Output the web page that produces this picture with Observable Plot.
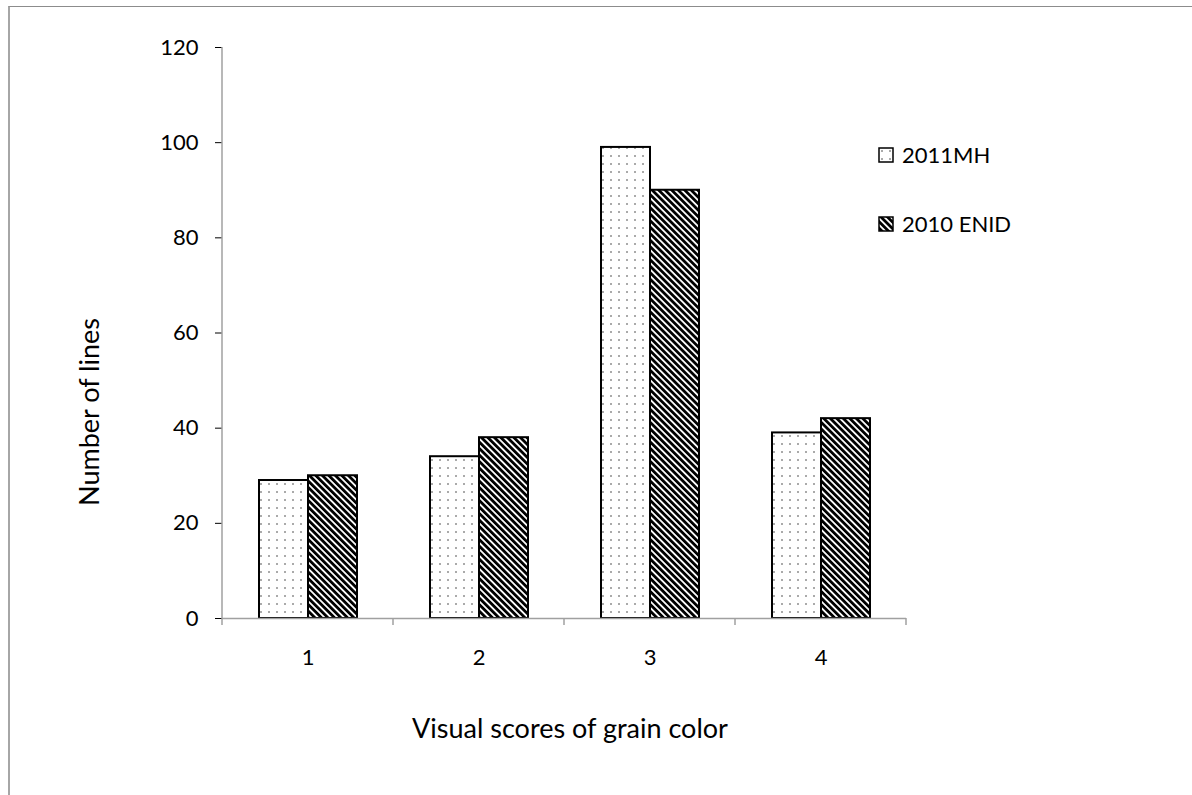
<!DOCTYPE html>
<html><head><meta charset="utf-8">
<script src="https://cdn.jsdelivr.net/npm/d3@7"></script>
<script src="https://cdn.jsdelivr.net/npm/@observablehq/plot@0.6"></script>
<style>
  body{margin:0;background:#fff;font-family:Lato,"Open Sans",sans-serif;color:#000;}
  #wrap{position:relative;width:1192px;height:795px;overflow:hidden;}
  #border{position:absolute;left:8px;top:6px;width:1200px;height:800px;border-left:2px solid #a6a6a6;border-top:1px solid #8c8c8c;}
  #chart{position:absolute;left:0;top:0;}
  .lbl{position:absolute;white-space:nowrap;font-size:27px;line-height:1;}
  #xlab{left:570px;top:727px;transform:translate(-50%,-50%);}
  #ylab{left:88px;top:412px;transform:translate(-50%,-50%) rotate(-90deg);}
  .leg{position:absolute;left:878px;display:flex;align-items:center;font-size:22px;line-height:1;}
  .leg svg{margin-right:8px;}
</style>
</head><body>
<div id="wrap">
  <div id="border"></div>
  <div id="chart"></div>
  <div class="lbl" id="xlab">Visual scores of grain color</div>
  <div class="lbl" id="ylab">Number of lines</div>
  <div class="leg" style="top:144px"><svg width="16" height="16"><rect x="1" y="1" width="14" height="14" fill="url(#dots)" stroke="#000" stroke-width="1.5"/></svg><span>2011MH</span></div>
  <div class="leg" style="top:213px"><svg width="16" height="16"><rect x="1" y="1" width="14" height="14" fill="url(#hatch)" stroke="#000" stroke-width="1.5"/></svg><span>2010 ENID</span></div>
</div>
<script>
const categories = ["1", "2", "3", "4"];
const series = ["2011MH", "2010 ENID"];
const values2011MH = [29, 34, 99, 39];
const values2010ENID = [30, 38, 90, 42];
const yTicks = [0, 20, 40, 60, 80, 100, 120];
const patterns = ["url(#dots)", "url(#hatch)"];

const table = [];
categories.forEach((c, i) => {
  table.push({cat: c, series: series[0], value: values2011MH[i]});
  table.push({cat: c, series: series[1], value: values2010ENID[i]});
});

const plot = Plot.plot({
  width: 1192, height: 795,
  marginLeft: 221, marginRight: 285, marginTop: 47, marginBottom: 177,
  style: {fontFamily: "Lato, 'Open Sans', sans-serif", fontSize: "22px", color: "#000", background: "transparent", overflow: "visible"},
  fx: {domain: categories, padding: 0, label: null, tickSize: 0, tickPadding: 31},
  x: {domain: series, paddingInner: 0, paddingOuter: 0.73, axis: null},
  y: {domain: [0, 120], ticks: yTicks, tickSize: 7, tickPadding: 17, label: null},
  color: {domain: series, range: patterns},
  marks: [
    Plot.barY(table, {fx: "cat", x: "series", y: "value", fill: "series", stroke: "#000", strokeWidth: 2}),
    Plot.ruleY([0], {stroke: "#a0a0a0", strokeWidth: 1.5})
  ]
});

const svg = d3.select(plot);
const defs = svg.insert("defs", ":first-child");
const dots = defs.append("pattern").attr("id", "dots").attr("patternUnits", "userSpaceOnUse")
  .attr("width", 8).attr("height", 8);
dots.append("rect").attr("width", 8).attr("height", 8).attr("fill", "#fff");
dots.append("rect").attr("x", 3).attr("y", 3).attr("width", 2).attr("height", 2).attr("fill", "#aaaaaa");
const hatch = defs.append("pattern").attr("id", "hatch").attr("patternUnits", "userSpaceOnUse")
  .attr("width", 4.6).attr("height", 10).attr("patternTransform", "rotate(-45)");
hatch.append("rect").attr("width", 4.6).attr("height", 10).attr("fill", "#fff");
hatch.append("rect").attr("width", 2.8).attr("height", 10).attr("fill", "#000");

// y-axis domain line and category boundary ticks (from Plot's scales)
const fx = plot.scale("fx"), y = plot.scale("y");
const y0 = y.apply(0), yTop = y.apply(120);
const bounds = categories.map(c => fx.apply(c)).concat([fx.apply(categories[categories.length - 1]) + fx.bandwidth]);
const g = svg.append("g").attr("stroke", "#a0a0a0").attr("stroke-width", 1.5);
g.append("line").attr("x1", bounds[0]).attr("x2", bounds[0]).attr("y1", yTop).attr("y2", y0);
bounds.forEach(b => g.append("line").attr("x1", b).attr("x2", b).attr("y1", y0).attr("y2", y0 + 7));
svg.selectAll("[aria-label='y-axis tick']").attr("stroke", "#a0a0a0");

document.getElementById("chart").appendChild(plot);
</script>
</body></html>
